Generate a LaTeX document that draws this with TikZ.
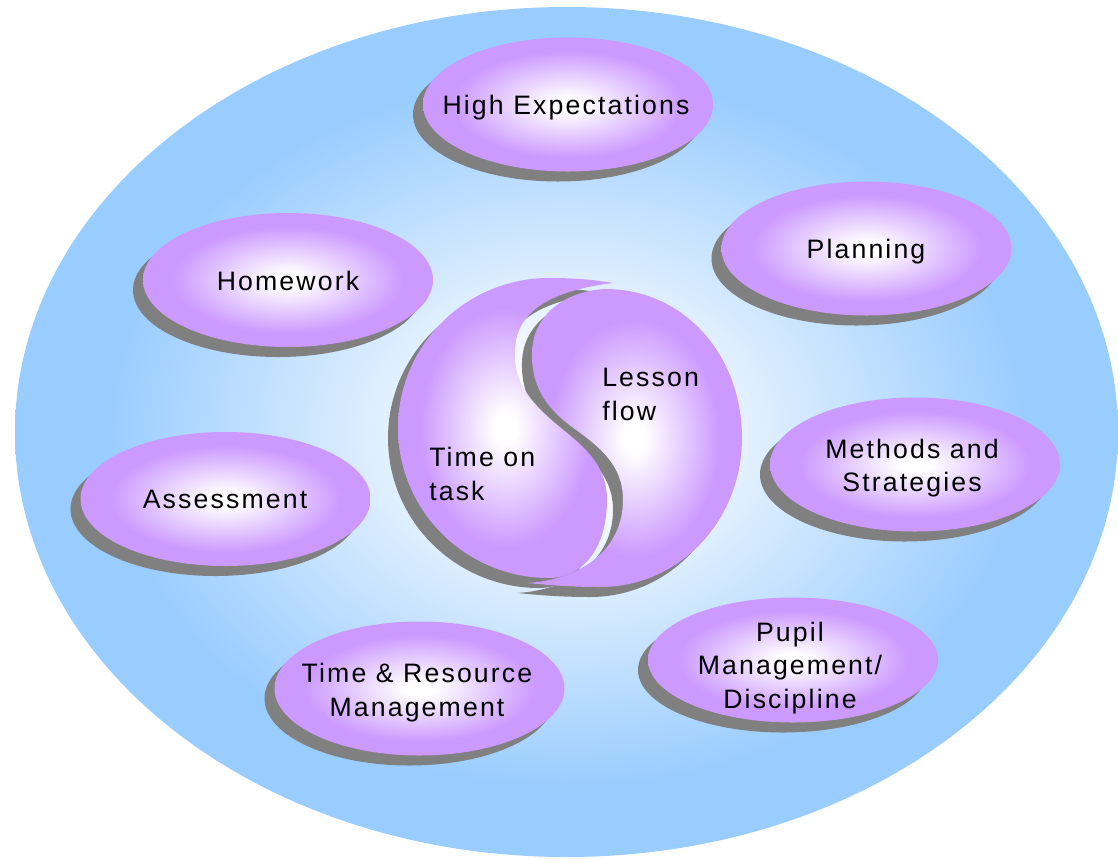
\documentclass[tikz,border=0pt]{standalone}
\usepackage{fontspec}
\newfontfamily\lblfont{Liberation Sans}[LetterSpace=8]
\usetikzlibrary{shapes.geometric}
\definecolor{bgblue}{RGB}{153,204,255}
\definecolor{purp}{RGB}{204,153,255}
\definecolor{shadowgray}{RGB}{128,128,128}
\pgfdeclareradialshading{purpsh}{\pgfpoint{0bp}{0bp}}{color(0bp)=(white); color(2.5bp)=(white); color(20bp)=(purp); color(25bp)=(purp); color(50bp)=(purp)}
\pgfdeclareradialshading{bgsh}{\pgfpoint{0bp}{0bp}}{color(0bp)=(white); color(3bp)=(white); color(21bp)=(bgblue); color(25bp)=(bgblue); color(50bp)=(bgblue)}
\def\Lpiece{(613,283) .. controls (590,279) and (570,278) .. (549,278) .. controls (466,278) and (398,345) .. (398,428) .. controls (398,511) and (466,578) .. (549,578) .. controls (585,578) and (607,545) .. (607,500) .. controls (607,468) and (588,450) .. (566,432) .. controls (540,411) and (513,388) .. (515,352) .. controls (515,318) and (540,292) .. (613,283) -- cycle}
\def\Rpiece{(605,289) .. controls (685,289) and (742,356) .. (742,438) .. controls (742,520) and (680,587) .. (600,587) .. controls (570,587) and (548,585) .. (527,583) .. controls (580,580) and (623,550) .. (623,500) .. controls (623,465) and (600,447) .. (572,427) .. controls (545,407) and (531,385) .. (532,352) .. controls (533,315) and (565,291) .. (605,289) -- cycle}
\begin{document}
\begin{tikzpicture}[x=0.75pt, y=-0.75pt,
  bubble/.style={ellipse, minimum width=217.5pt, minimum height=100.5pt, inner sep=0pt, draw=none, shading=purpsh},
  bubshadow/.style={ellipse, minimum width=217.5pt, minimum height=100.5pt, inner sep=0pt, draw=none, fill=shadowgray, xshift=-7.5pt, yshift=-7.5pt},
  lbl/.style={font=\lblfont\fontsize{20}{25}\selectfont, text=black, inner sep=0pt, align=center, anchor=base},
  lbll/.style={font=\lblfont\fontsize{20}{25}\selectfont, text=black, inner sep=0pt, align=left, anchor=base west}]
\useasboundingbox (0,0) rectangle (1118,858);
% background
\node[ellipse, minimum width=827.25pt, minimum height=637.5pt, inner sep=0pt, shading=bgsh] (bg) at (566.5,432) {};
% bubbles
\node[bubshadow] (heS) at (568,104.5) {};
\node[bubble] (he) at (568,104.5) {};
\node[bubshadow] (plS) at (866.5,248.5) {};
\node[bubble] (pl) at (866.5,248.5) {};
\node[bubshadow] (hwS) at (288,280) {};
\node[bubble] (hw) at (288,280) {};
\node[bubshadow] (asS) at (225.5,499) {};
\node[bubble] (as) at (225.5,499) {};
\node[bubshadow] (msS) at (915,464.5) {};
\node[bubble] (ms) at (915,464.5) {};
\node[bubshadow, minimum height=93.75pt] (pmS) at (793,660) {};
\node[bubble, minimum height=93.75pt] (pm) at (793,660) {};
\node[bubshadow] (trS) at (419.5,688.5) {};
\node[bubble] (tr) at (419.5,688.5) {};
% yin-yang
\path[fill=shadowgray, shift={(-10,10)}] \Lpiece;
\path[fill=shadowgray, shift={(-10,10)}] \Rpiece;
\path[shading=purpsh] \Lpiece;
\path[shading=purpsh] \Rpiece;
% labels (multi-line: base = last line)
\node[lbl] (heT) at (566,114) {High Expectations};
\node[lbl] (plT) at (866,258.3) {Planning};
\node[lbl] (hwT) at (288,290.7) {Homework};
\node[lbl] (asT) at (225,508.3) {Assessment};
\node[lbl] (msT) at (912,491.5) {Methods and\\Strategies};
\node[lbl] (pmT) at (790,708) {Pupil\\Management/\\Discipline};
\node[lbl] (trT) at (417,716) {Time \& Resource\\Management};
\node[lbll] (lfT) at (602,420) {Lesson\\flow};
\node[lbll] (ttT) at (429,500) {Time on\\task};
\end{tikzpicture}
\end{document}
